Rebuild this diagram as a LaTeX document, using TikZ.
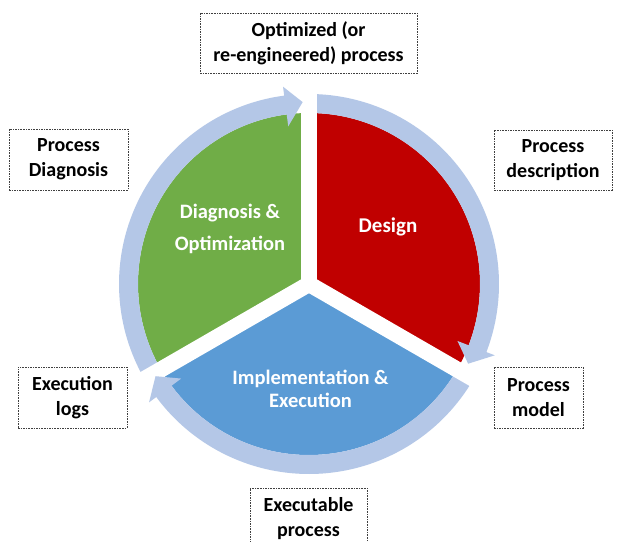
\documentclass[tikz,border=0pt]{standalone}
\usepackage{fontspec}
\setmainfont{Carlito}
\definecolor{pgreen}{HTML}{70AD47}
\definecolor{pred}{HTML}{C00000}
\definecolor{pblue}{HTML}{5B9BD5}
\definecolor{pring}{HTML}{B4C7E7}
\begin{document}
\begin{tikzpicture}[x=1pt,y=1pt,
  lbl/.style={draw=black!75, dash pattern=on 1.6pt off 1pt, line width=0.9pt, align=center,
    font=\fontsize{20}{25}\selectfont\bfseries, inner sep=0pt},
  pietxt/.style={text=white, align=center, inner sep=0pt},
  ringband/.style={fill=pring},
  gapline/.style={draw=white, line width=16pt}]
\useasboundingbox (0,0) rectangle (626,541);
\clip (0,0) rectangle (626,541);
\fill[white] (0,0) rectangle (626,541);
\begin{scope}[shift={(309,257)}]
  % sectors
  \fill[pgreen] (0,0) -- (90:171) arc[start angle=90,end angle=210,radius=171] -- cycle;
  \fill[pred] (0,0) -- (90:171) arc[start angle=90,end angle=-30,radius=171] -- cycle;
  \fill[pblue] (0,0) -- (-30:171) arc[start angle=-30,end angle=-150,radius=171] -- cycle;
  % ring bands
  \fill[ringband] (210:171) arc[start angle=210,end angle=97,radius=171] -- (97:190) arc[start angle=97,end angle=210,radius=190] -- cycle;
  \fill[ringband] (90:171) arc[start angle=90,end angle=-21.5,radius=171] -- (-21.5:190) arc[start angle=-21.5,end angle=90,radius=190] -- cycle;
  \fill[ringband] (-30:171) arc[start angle=-30,end angle=-144,radius=171] -- (-144:190) arc[start angle=-144,end angle=-30,radius=190] -- cycle;
  % gaps
  \coordinate (c0) at (0,0);
  \coordinate (g1) at (90:205);
  \coordinate (g2) at (-30:205);
  \coordinate (g3) at (210:205);
  \draw[gapline] (c0) -- (g1);
  \draw[gapline] (c0) -- (g2);
  \draw[gapline] (c0) -- (g3);
  \fill[white] (c0) circle[radius=8];
  % arrow heads
  \fill[ringband] (97.5:159) -- (92:182) -- (97.5:199) -- cycle;
  \fill[ringband] (-21:159) -- (-26.6:178) -- (-21:199) -- cycle;
  \fill[ringband] (-143.5:159) -- (-149:179) -- (-143.5:199) -- cycle;
\end{scope}
% pie texts
\node (tdesign) [pietxt, font=\fontsize{21}{24}\selectfont\bfseries] at (388,314) {Design};
\node (tdiag) [pietxt, font=\fontsize{20.5}{32}\selectfont\bfseries] at (230,312) {Diagnosis \&\\Optimization};
\node (timpl) [pietxt, font=\fontsize{20.5}{23}\selectfont\bfseries] at (310.5,152.5) {Implementation \&\\Execution};
% label boxes
\node (lopt) [lbl, minimum width=217pt, minimum height=60pt] at (308.5,498) {Optimized (or\\re-engineered) process};
\node (ldiag) [lbl, minimum width=119pt, minimum height=61pt] at (68.5,381.5) {Process\\Diagnosis};
\node (ldesc) [lbl, minimum width=118pt, minimum height=60pt] at (553,381) {Process\\description};
\node (llogs) [lbl, minimum width=109pt, minimum height=61pt] at (72.5,143.5) {Execution\\logs};
\node (lmodel) [lbl, minimum width=89pt, minimum height=61pt] at (538.5,143.5) {Process\\model};
\node (lexec) [lbl, minimum width=117pt, minimum height=61pt] at (308.5,22.5) {Executable\\process};
\end{tikzpicture}
\end{document}
